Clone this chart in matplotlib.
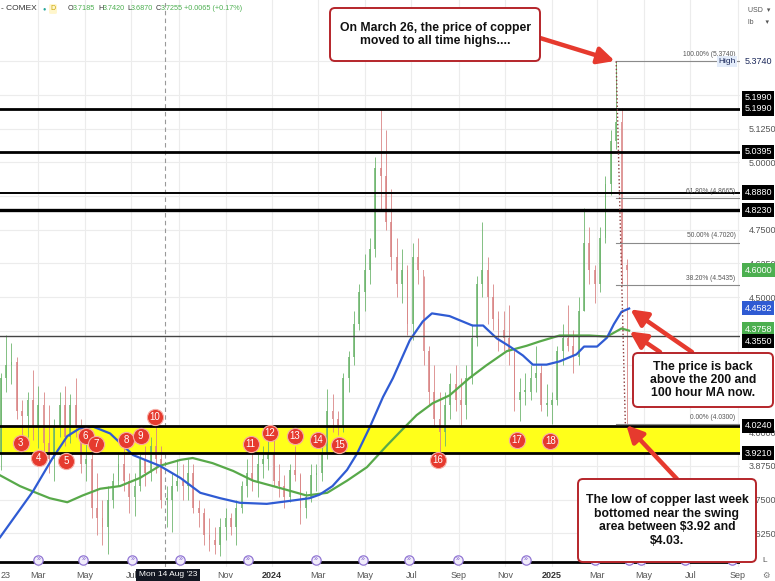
"""Copper (COMEX) daily chart with swing area, MAs and fib levels."""
import numpy as np
import pandas as pd
import matplotlib
matplotlib.use('Agg')
import matplotlib.pyplot as plt
import matplotlib.dates as mdates
import matplotlib.transforms as mtransforms
from matplotlib.patches import FancyBboxPatch

plt.rcParams['font.family'] = ['Liberation Sans', 'DejaVu Sans']

W, H = 775, 581

# ---- weekly candles ----
week_start = pd.date_range('2023-01-09', periods=118, freq='7D')
first_open = 3.92
highs = [4.22, 4.36, 4.33, 4.28, 4.12, 4.15, 4.23, 4.17, 4.15, 4.10,
         4.05, 4.15, 4.17, 4.14, 4.20, 4.05, 4.00, 4.00, 3.85, 3.75,
         3.80, 3.85, 3.92, 3.95, 3.85, 3.85, 3.92, 3.95, 3.98, 4.06,
         3.95, 3.80, 3.85, 3.90, 3.88, 3.90, 3.88, 3.75, 3.72, 3.68,
         3.65, 3.68, 3.72, 3.70, 3.75, 3.82, 3.90, 3.96, 3.92, 3.95,
         3.98, 3.97, 3.88, 3.84, 3.88, 3.95, 3.85, 3.78, 3.88, 3.88,
         3.95, 4.16, 4.14, 4.08, 4.22, 4.30, 4.45, 4.55, 4.66, 4.72,
         5.02, 5.199, 5.12, 4.90, 4.72, 4.68, 4.62, 4.70, 4.72, 4.58,
         4.32, 4.25, 4.15, 4.15, 4.22, 4.25, 4.20, 4.25, 4.40, 4.58,
         4.78, 4.65, 4.55, 4.45, 4.45, 4.47, 4.30, 4.20, 4.22, 4.25,
         4.32, 4.25, 4.18, 4.15, 4.32, 4.40, 4.47, 4.38, 4.50, 4.83,
         4.76, 4.62, 4.76, 4.95, 5.12, 5.374, 5.20, 4.64]
lows = [3.86, 4.15, 4.18, 4.05, 3.98, 3.98, 3.97, 3.94, 3.92, 3.85,
        3.82, 3.98, 3.95, 3.96, 3.98, 3.85, 3.82, 3.68, 3.62, 3.58,
        3.55, 3.72, 3.80, 3.78, 3.70, 3.69, 3.78, 3.80, 3.82, 3.85,
        3.72, 3.65, 3.63, 3.78, 3.75, 3.75, 3.70, 3.65, 3.58, 3.56,
        3.55, 3.54, 3.60, 3.62, 3.58, 3.70, 3.76, 3.78, 3.76, 3.83,
        3.86, 3.80, 3.76, 3.72, 3.74, 3.82, 3.66, 3.68, 3.74, 3.78,
        3.82, 3.90, 4.00, 3.99, 4.00, 4.15, 4.25, 4.38, 4.45, 4.55,
        4.65, 4.82, 4.75, 4.60, 4.50, 4.48, 4.36, 4.34, 4.55, 4.25,
        4.10, 4.02, 3.90, 3.95, 4.05, 4.08, 4.02, 4.05, 4.18, 4.32,
        4.50, 4.40, 4.38, 4.30, 4.30, 4.25, 4.08, 4.04, 4.10, 4.12,
        4.15, 4.08, 4.06, 4.03, 4.10, 4.25, 4.30, 4.22, 4.25, 4.45,
        4.55, 4.48, 4.52, 4.70, 4.88, 5.05, 4.55, 4.03]
closes = [4.20, 4.25, 4.26, 4.08, 4.06, 4.12, 4.02, 4.10, 3.96, 3.90,
          4.02, 4.10, 3.98, 4.10, 4.02, 3.88, 3.90, 3.72, 3.68, 3.65,
          3.75, 3.82, 3.88, 3.82, 3.76, 3.80, 3.90, 3.85, 3.95, 3.90,
          3.75, 3.75, 3.80, 3.82, 3.80, 3.85, 3.72, 3.70, 3.62, 3.60,
          3.58, 3.65, 3.68, 3.65, 3.72, 3.80, 3.85, 3.82, 3.88, 3.90,
          3.92, 3.82, 3.80, 3.76, 3.86, 3.84, 3.72, 3.76, 3.84, 3.85,
          3.92, 4.08, 4.05, 4.02, 4.20, 4.28, 4.40, 4.52, 4.60, 4.68,
          4.98, 4.95, 4.78, 4.65, 4.55, 4.60, 4.40, 4.65, 4.60, 4.30,
          4.15, 4.05, 4.00, 4.10, 4.18, 4.12, 4.10, 4.20, 4.35, 4.55,
          4.60, 4.50, 4.42, 4.38, 4.35, 4.30, 4.12, 4.15, 4.15, 4.20,
          4.22, 4.10, 4.10, 4.12, 4.30, 4.35, 4.32, 4.28, 4.45, 4.70,
          4.60, 4.55, 4.72, 4.92, 5.08, 5.15, 4.62, 4.60]

# ---- moving averages (read at points) ----
ma100_dates = ['2023-01-10', '2023-02-22', '2023-03-19', '2023-04-08', '2023-04-25',
               '2023-05-12', '2023-06-03', '2023-07-03', '2023-08-07', '2023-09-03',
               '2023-09-29', '2023-10-25', '2023-11-20', '2023-12-25', '2024-01-24',
               '2024-02-19', '2024-03-03', '2024-03-20', '2024-04-08', '2024-04-21',
               '2024-05-08', '2024-05-25', '2024-06-07', '2024-06-29', '2024-07-16',
               '2024-07-28', '2024-08-20', '2024-09-19', '2024-10-03', '2024-10-21',
               '2024-11-07', '2024-11-24', '2024-12-07', '2024-12-25', '2025-01-11',
               '2025-02-02', '2025-02-12', '2025-03-01', '2025-03-14', '2025-03-23',
               '2025-04-02', '2025-04-12']
ma100_vals = [3.61, 3.78, 3.90, 3.985, 4.015, 4.02, 3.995, 3.915, 3.875, 3.83,
              3.775, 3.755, 3.738, 3.734, 3.745, 3.755, 3.768, 3.80, 3.86, 3.92,
              4.02, 4.13, 4.20, 4.34, 4.41, 4.44, 4.43, 4.395, 4.395, 4.347,
              4.317, 4.284, 4.25, 4.25, 4.262, 4.288, 4.317, 4.317, 4.35, 4.40,
              4.446, 4.458]
ma200_dates = ['2023-01-10', '2023-02-05', '2023-02-22', '2023-03-16', '2023-04-08',
               '2023-04-28', '2023-05-21', '2023-06-16', '2023-07-12', '2023-08-07',
               '2023-09-03', '2023-09-19', '2023-10-15', '2023-11-11', '2023-12-07',
               '2024-01-11', '2024-02-15', '2024-03-13', '2024-04-08', '2024-05-04',
               '2024-05-30', '2024-06-16', '2024-07-08', '2024-07-29', '2024-08-20',
               '2024-09-15', '2024-10-07', '2024-11-03', '2024-11-29', '2024-12-16',
               '2025-01-11', '2025-02-19', '2025-03-14', '2025-04-02', '2025-04-12']
ma200_vals = [3.84, 3.80, 3.78, 3.755, 3.74, 3.765, 3.79, 3.80, 3.83, 3.875,
              3.897, 3.904, 3.885, 3.856, 3.82, 3.793, 3.765, 3.775, 3.82, 3.87,
              3.95, 4.00, 4.063, 4.107, 4.136, 4.20, 4.247, 4.30, 4.32, 4.336,
              4.358, 4.358, 4.354, 4.384, 4.376]

# ---- levels ----
level_prices = [5.199, 5.0395, 4.888, 4.823, 4.355, 4.024, 3.921, 3.52]
level_widths = [2.0, 2.0, 1.4, 2.4, 1.0, 2.0, 2.0, 2.0]
level_colors = ['black', 'black', 'black', 'black', '#444444', 'black', 'black', 'black']
swing_low, swing_high = 3.921, 4.024

fib_pcts = ['100.00%', '61.80%', '50.00%', '38.20%', '0.00%']
fib_prices = [5.374, 4.8665, 4.7020, 4.5435, 4.0300]
fib_start = '2025-03-26'
ath_date, ath_price = '2025-03-26', 5.374
low_date, low_price = '2025-04-07', 4.030

# ---- numbered touches ----
touch_nums = list(range(3, 19))
touch_dates = ['2023-02-06', '2023-03-02', '2023-04-06', '2023-05-02', '2023-05-16',
               '2023-06-24', '2023-07-13', '2023-08-01', '2023-12-04', '2023-12-29',
               '2024-01-31', '2024-03-01', '2024-03-29', '2024-08-05', '2024-11-16',
               '2024-12-30']
touch_prices = [3.959, 3.904, 3.893, 3.985, 3.956, 3.970, 3.985, 4.055, 3.956, 3.996,
                3.985, 3.970, 3.952, 3.897, 3.970, 3.967]

event_dates = ['2023-03-01', '2023-04-29', '2023-07-02', '2023-09-03', '2023-11-30',
               '2024-02-27', '2024-04-29', '2024-06-28', '2024-08-31', '2024-11-28',
               '2025-02-26', '2025-04-12', '2025-04-28', '2025-06-24', '2025-08-25']

# right axis tags: where the tag sits, its label, its colour
tag_prices = [5.239, 5.199, 5.0395, 4.888, 4.823, 4.600, 4.4582, 4.381, 4.337, 4.024, 3.921]
tag_labels = ['5.1990', '5.1990', '5.0395', '4.8880', '4.8230', '4.6000', '4.4582', '4.3758',
              '4.3550', '4.0240', '3.9210']
tag_colors = ['black', 'black', 'black', 'black', 'black', '#4caf50', '#2f5bd3', '#4caf50',
              'black', 'black', 'black']
# price scale labels fully covered by tags / boxes in the original
hidden_ticks = [5.375, 5.25, 4.875, 4.375, 4.25, 4.125, 3.5]

BLUE = '#2f5bd3'
GREEN = '#58a94a'
RED = '#e63a2e'

fig = plt.figure(figsize=(W / 100, H / 100), dpi=100)
ax = fig.add_axes([0, 14 / H, 740 / W, 567 / H])
ax.set_xlim(pd.Timestamp('2023-01-10'), pd.Timestamp('2025-09-04'))
ax.set_ylim(3.509, 5.6015)
for s in ax.spines.values():
    s.set_visible(False)

# grid + ticks
ax.set_axisbelow(True)
ax.xaxis.set_major_locator(mdates.MonthLocator(bymonth=[1, 3, 5, 7, 9, 11]))
yt = np.arange(3.5, 5.4, 0.125)
ax.set_yticks(yt)
ax.yaxis.tick_right()
ax.set_yticklabels(['' if any(abs(v - h) < 1e-6 for h in hidden_ticks) else f'{v:.4f}' for v in yt])
ax.tick_params(axis='y', length=0, labelsize=6.5, labelcolor='#555555', pad=6)
ax.tick_params(axis='x', length=0, labelsize=6.5, labelcolor='#555555', pad=3)
ax.grid(True, color='#ececec', lw=0.8)

xt = ax.get_xticks()
xlabels = []
for tk in xt:
    d = mdates.num2date(tk)
    if d.year == 2023 and d.month == 9:
        xlabels.append('')          # hidden under the crosshair date box
    elif d.month == 1:
        xlabels.append(str(d.year))
    else:
        xlabels.append(d.strftime('%b'))
ax.set_xticks(xt)
ax.set_xticklabels(xlabels)
for lab in ax.get_xticklabels():
    if lab.get_text().isdigit():
        lab.set_fontweight('bold')
        lab.set_color('#333333')

# crosshair
ax.axvline(pd.Timestamp('2023-08-14'), color='#999999', lw=0.8, ls=(0, (4, 3)), zorder=1)

# swing area
ax.axhspan(swing_low, swing_high, color='#ffff1a', zorder=1)

# candles
opens = np.r_[first_open, closes[:-1]]
centers = week_start + pd.Timedelta(days=2)
cols = np.where(np.array(closes) >= opens, '#6db56d', '#d98484')
ax.vlines(centers, lows, highs, colors=cols, lw=0.7, alpha=0.85, zorder=2)
body = np.array(closes) - opens
body = np.where(np.abs(body) < 0.006, 0.006, body)
ax.bar(centers, body, bottom=opens, width=2.4, color=cols, alpha=0.8, zorder=2)

# moving averages
ax.plot(pd.to_datetime(ma200_dates), ma200_vals, color=GREEN, lw=1.6, zorder=3)
ax.plot(pd.to_datetime(ma100_dates), ma100_vals, color=BLUE, lw=1.6, zorder=3)

# horizontal levels
for p, lw, c in zip(level_prices, level_widths, level_colors):
    ax.axhline(p, color=c, lw=lw, zorder=4)

# fib levels
btr = mtransforms.blended_transform_factory(ax.transAxes, ax.transData)
xend = pd.Timestamp('2025-09-04')
for pct, p in zip(fib_pcts, fib_prices):
    ax.plot([pd.Timestamp(fib_start), xend], [p, p], color='#8a8a8a', lw=0.8, zorder=4)
    ax.text(0.994, p + 0.012, f'{pct} ({p:.4f})', transform=btr,
            ha='right', va='bottom', fontsize=4.8, color='#555555', zorder=5)
ax.plot([pd.Timestamp(ath_date), pd.Timestamp(low_date)], [ath_price, low_price],
        color='#8b3a3a', lw=1.0, ls=':', zorder=4)

# numbered circles
td = pd.to_datetime(touch_dates)
ax.scatter(td, touch_prices, s=135, color=RED, edgecolors='#f6aca4', linewidths=0.8, zorder=6)
for n, d, p in zip(touch_nums, td, touch_prices):
    ax.text(d, p, str(n), ha='center', va='center', color='white', fontsize=7, zorder=7)

# event icons along the bottom
ed = pd.to_datetime(event_dates)
evy = [3.527] * len(ed)
ax.scatter(ed, evy, s=45, facecolor='#f1ecfb', edgecolors='#9277d4', linewidths=0.9, zorder=6, clip_on=False)
for d in ed:
    ax.text(d, 3.527, '»', ha='center', va='center', fontsize=5, color='#7a5cc8', zorder=7)

# right axis tags
for p, lab, c in zip(tag_prices, tag_labels, tag_colors):
    ax.text(1.006, p, lab, transform=btr, ha='left', va='center', fontsize=6.5, color='white',
            bbox=dict(boxstyle='square,pad=0.28', fc=c, ec='none'), clip_on=False, zorder=8)
ax.text(1.006, 5.374, '5.3740', transform=btr, ha='left', va='center', fontsize=6.5, color='#1d2a5c',
        bbox=dict(boxstyle='square,pad=0.28', fc='white', ec='none'), clip_on=False, zorder=8)
ax.text(0.994, 5.374, 'High', transform=btr, ha='right', va='center', fontsize=6, color='#1d2a5c',
        bbox=dict(boxstyle='square,pad=0.2', fc='#e3ecfa', ec='none'), zorder=8)


def fx(x):
    return x / W


def fy(y):
    return 1 - y / H


# header
fig.text(fx(1), fy(9), '- COMEX', fontsize=6, color='#333333', va='center')
fig.text(fx(44), fy(9), '●', fontsize=4, color='#26a69a', va='center', ha='center')
fig.text(fx(53), fy(9), 'D', fontsize=5, color='#c9a400', va='center', ha='center',
         bbox=dict(boxstyle='round,pad=0.2', fc='#fff6cc', ec='none'))
for xp, s, c in [(68, 'O', '#333333'), (73, '3.7185', '#4caf50'), (98, 'H', '#333333'),
                 (103, '3.7420', '#4caf50'), (127, 'L', '#333333'), (131, '3.6870', '#4caf50'),
                 (156, 'C', '#333333'), (161, '3.7255', '#4caf50'), (184, '+0.0065 (+0.17%)', '#4caf50')]:
    fig.text(fx(xp), fy(9), s, fontsize=5.2, color=c, va='center')
fig.text(fx(748), fy(10), 'USD  ▾', fontsize=5, color='#555555', va='center')
fig.text(fx(748), fy(22), 'lb      ▾', fontsize=5, color='#555555', va='center')
fig.text(fx(762), fy(561), 'L', fontsize=6, color='#555555', va='center')
fig.text(fx(762), fy(576), '⚙', fontsize=6, color='#777777', va='center')
fig.text(fx(1), fy(575), '23', fontsize=6.5, color='#555555', va='center')
fig.text(fx(168), fy(575), "Mon 14 Aug '23", fontsize=6, color='white', va='center', ha='center',
         bbox=dict(boxstyle='square,pad=0.35', fc='#131722', ec='none'), zorder=10)

# callout boxes
boxes = [((330, 8, 540, 61), 'On March 26, the price of copper\nmoved to all time highs....'),
         ((633, 353, 773, 407), 'The price is back\nabove the 200 and\n100 hour MA now.'),
         ((578, 479, 756, 562), 'The low of copper last week\nbottomed near the swing\narea between $3.92 and\n$4.03.')]
for (x0, y0, x1, y1), txt in boxes:
    patch = FancyBboxPatch((x0, H - y1), x1 - x0, y1 - y0, boxstyle='round,pad=0,rounding_size=5',
                           transform=mtransforms.IdentityTransform(), fc='white', ec='#b5252a', lw=1.4, zorder=20)
    fig.add_artist(patch)
    fig.text(fx((x0 + x1) / 2), fy((y0 + y1) / 2), txt, ha='center', va='center', fontsize=8.8,
             fontweight='bold', color='#111111', linespacing=1.15, zorder=21)

# arrows
arrows = [((540, 38), (ath_date, ath_price)),
          ((692, 352), ('2025-04-12', 4.458)),
          ((660, 352), ('2025-04-11', 4.376)),
          ((677, 479), (low_date, low_price))]
for (sx, sy), (d, p) in arrows:
    ax.annotate('', xy=(mdates.date2num(pd.Timestamp(d)), p), xycoords='data',
                xytext=(sx, H - sy), textcoords='figure pixels', annotation_clip=False,
                arrowprops=dict(arrowstyle='-|>,head_width=0.5,head_length=1.0', color=RED, lw=3.2,
                                mutation_scale=10, shrinkA=0, shrinkB=1), zorder=19)

fig.savefig('out.png', dpi=100)
